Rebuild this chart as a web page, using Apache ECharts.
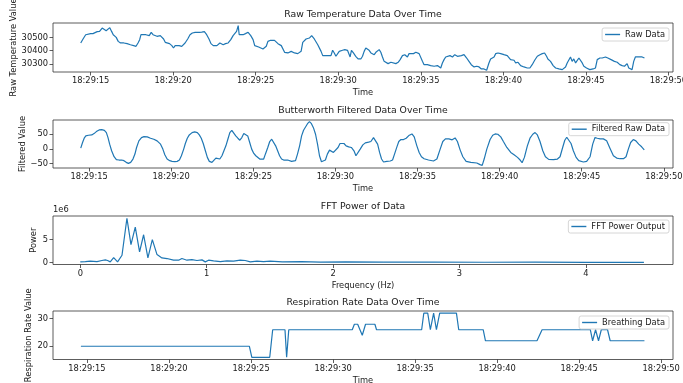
<!DOCTYPE html>
<html>
<head>
<meta charset="utf-8">
<script src="https://cdn.jsdelivr.net/npm/echarts@6/dist/echarts.min.js"></script>
<style>
  html, body { margin: 0; background: #fff; }
  #chart { width: 683px; height: 383px; }
</style>
</head>
<body>
<div id="chart"></div>
<script>
// seconds after 18:29:00
const timeTicks = [15, 20, 25, 30, 35, 40, 45, 50];
const freqTicks = [0, 1, 2, 3, 4];

const rawTime = [14.40,14.54,14.70,14.80,15.00,15.14,15.26,15.40,15.54,15.70,15.82,15.94,16.06,16.16,16.27,16.37,16.47,16.55,16.67,16.81,
  17.01,17.21,17.41,17.61,17.75,17.87,17.97,18.05,18.21,18.35,18.47,18.55,18.67,18.78,18.88,19.02,19.12,19.22,19.32,19.42,
  19.52,19.62,19.78,19.92,20.02,20.12,20.22,20.36,20.52,20.72,20.88,21.02,21.16,21.33,21.43,21.57,21.73,21.89,22.03,22.17,
  22.29,22.43,22.53,22.65,22.73,22.83,22.93,23.03,23.17,23.33,23.49,23.63,23.73,23.84,23.94,24.00,24.10,24.24,24.38,24.54,
  24.70,24.84,24.94,25.04,25.18,25.30,25.44,25.54,25.64,25.74,25.90,26.14,26.35,26.55,26.75,26.95,27.15,27.35,27.55,27.75,
  27.85,28.05,28.25,28.39,28.55,28.76,28.96,29.06,29.16,29.36,29.56,29.66,29.76,29.86,30.06,30.26,30.40,30.56,30.72,30.80,
  30.92,31.06,31.20,
  31.37,31.47,31.57,31.67,31.77,31.87,31.98,32.08,32.18,32.28,32.38,32.48,32.58,32.68,32.78,32.88,33.02,33.19,33.29,33.49,
  33.63,33.75,33.89,34.03,34.19,34.29,34.40,34.56,34.70,34.80,34.90,35.00,35.10,35.20,35.30,35.40,35.60,35.81,36.01,36.21,
  36.31,36.41,36.51,36.61,36.77,36.92,37.06,37.22,37.32,37.46,37.62,37.78,37.92,38.06,38.23,38.39,38.53,38.67,38.83,38.99,
  39.13,39.23,39.33,39.44,39.54,39.68,39.84,39.94,40.04,40.14,40.24,40.34,40.44,40.54,40.65,40.75,40.89,41.05,41.25,41.45,
  41.61,41.75,41.90,42.06,42.22,42.36,42.50,42.62,42.70,42.86,43.02,43.17,43.37,43.57,43.77,43.87,43.97,44.07,44.17,44.27,
  44.38,44.48,44.58,44.68,44.78,44.88,45.04,45.24,45.44,45.58,45.69,45.85,45.99,46.19,46.33,46.45,46.53,46.65,46.73,46.90,
  47.06,47.20,47.34,47.50,47.60,47.70,47.80,47.90,48.00,48.15,48.27,48.41,48.55];
const rawValue = [30458,30488,30520,30528,30528,30528,30538,30543,30545,30570,30558,30550,30563,30573,30545,30520,30508,30500,30470,30458,
  30458,30453,30445,30438,30433,30458,30483,30520,30520,30520,30533,30513,30538,30520,30533,30508,30503,30513,30528,30488,
  30463,30458,30453,30438,30420,30438,30425,30438,30433,30458,30488,30520,30533,30538,30543,30538,30540,30543,30520,30488,
  30453,30438,30445,30438,30433,30458,30470,30445,30453,30458,30483,30513,30528,30545,30588,30520,30513,30520,30528,30538,
  30513,30483,30438,30433,30428,30433,30413,30408,30433,30470,30478,30478,30453,30438,30388,30383,30395,30383,30378,30395,
  30463,30488,30495,30513,30488,30445,30395,30363,30353,30363,30363,30403,30383,30358,30395,30403,30408,30403,30353,30403,
  30383,30358,30338,
  30338,30358,30395,30420,30428,30403,30383,30395,30370,30388,30403,30408,30388,30353,30320,30313,30303,30313,30303,30303,
  30313,30333,30363,30370,30353,30378,30370,30378,30388,30383,30378,30383,30320,30295,30308,30295,30288,30283,30288,30270,
  30308,30333,30353,30345,30363,30353,30370,30358,30370,30363,30370,30345,30320,30295,30278,30283,30278,30263,30263,30253,
  30308,30338,30345,30353,30378,30383,30378,30388,30370,30383,30363,30353,30333,30320,30328,30308,30313,30288,30278,30270,
  30270,30295,30328,30358,30370,30378,30383,30358,30338,30320,30288,30270,30263,30258,30278,30308,30320,30353,30320,30338,
  30308,30313,30345,30333,30308,30283,30270,30258,30263,30270,30333,30345,30345,30353,30345,30358,30333,30345,30320,30313,
  30295,30288,30283,30303,30270,30283,30258,30320,30353,30353,30363,30353,30345];

const filtTime = [14.49,14.60,14.70,14.80,14.96,15.16,15.30,15.44,15.61,15.77,15.93,16.05,16.15,16.25,16.37,16.52,16.66,16.82,16.98,17.12,
  17.26,17.39,17.53,17.67,17.79,17.89,18.03,18.19,18.34,18.54,18.74,18.94,19.14,19.35,19.49,19.61,19.75,19.91,20.05,20.22,
  20.36,20.50,20.62,20.76,20.86,20.98,21.10,21.27,21.43,21.59,21.71,21.83,21.95,22.08,22.20,22.32,22.48,22.60,22.72,22.84,
  22.96,23.09,23.21,23.33,23.45,23.57,23.69,23.81,23.93,24.06,24.18,24.30,24.42,24.54,24.66,24.78,24.90,25.03,25.15,25.27,
  25.39,25.51,25.63,25.75,25.88,26.00,26.12,26.24,26.36,26.48,26.60,26.72,26.85,26.97,27.09,27.21,27.33,27.45,27.57,27.69,
  27.82,27.94,28.06,28.18,28.30,28.42,28.54,28.66,28.79,28.91,29.03,29.15,29.27,29.39,29.51,29.64,29.76,29.88,30.00,30.16,
  30.28,30.40,30.52,30.65,30.81,30.97,31.13,31.25,31.37,
  31.51,31.67,31.82,32.02,32.16,32.32,32.44,32.57,32.69,32.81,32.93,33.13,33.34,33.48,33.60,33.74,33.86,33.99,34.15,34.31,
  34.47,34.66,34.80,34.96,35.10,35.24,35.40,35.67,35.97,36.18,36.38,36.54,36.70,36.91,37.11,37.29,37.43,37.60,37.76,37.96,
  38.25,38.61,38.81,38.94,39.06,39.22,39.42,39.58,39.73,39.89,40.07,40.23,40.44,40.68,40.88,41.09,41.25,41.37,41.51,41.69,
  41.85,42.02,42.16,42.30,42.46,42.63,42.79,42.99,43.28,43.52,43.68,43.84,43.97,44.09,44.21,44.35,44.49,44.66,44.82,45.10,
  45.30,45.51,45.67,45.81,45.95,46.12,46.32,46.52,46.72,46.93,47.13,47.33,47.54,47.70,47.84,47.98,48.14,48.30,48.47,48.65,
  48.81];
const filtValue = [2.3,21.6,36.4,44.3,46.6,47.7,52.3,59.1,64.8,65.9,63.6,55.7,38.6,15.9,-6.8,-27.3,-37.5,-38.6,-38.6,-40.9,
  -46.6,-50.0,-46.6,-35.2,-18.2,4.5,27.3,38.6,42.0,40.9,36.4,32.9,27.3,15.9,-1.1,-20.4,-35.2,-40.9,-43.2,-44.3,
  -43.2,-38.6,-23.9,-1.1,18.2,36.4,47.7,55.7,57.9,55.7,47.7,36.4,18.2,-6.8,-29.5,-43.2,-46.6,-40.9,-31.8,-35.2,
  -35.2,-23.9,-6.8,10.2,32.9,55.7,63.6,59.1,44.3,36.4,29.5,38.6,52.3,55.7,44.3,21.6,-1.1,-15.9,-23.9,-29.5,
  -35.2,-38.6,-35.2,-15.9,4.5,25.0,32.9,27.3,10.2,-6.8,-23.9,-35.2,-38.6,-40.9,-38.6,-35.2,-43.2,-50.0,-40.9,-18.2,
  10.2,44.3,63.6,75.0,86.3,93.2,86.3,72.7,50.0,15.9,-23.9,-44.3,-46.6,-38.6,-18.2,-4.5,-4.5,-12.5,-6.8,4.5,
  18.2,25.0,18.2,10.2,6.8,4.5,-6.8,-23.9,-20.4,
  -1.1,13.6,20.4,22.7,25.0,38.6,36.4,15.9,-12.5,-35.2,-45.4,-43.2,-42.0,-38.6,-18.2,5.7,25.0,31.8,31.8,36.4,
  45.4,51.1,40.9,10.2,-12.5,-27.3,-34.1,-38.6,-42.0,-35.2,-1.1,25.0,34.1,34.1,30.7,37.5,25.0,-4.5,-27.3,-43.2,
  -46.6,-48.8,-54.5,-56.8,-35.2,-1.1,31.8,46.6,51.1,50.0,40.9,25.0,4.5,-12.5,-20.4,-29.5,-38.6,-47.7,-29.5,10.2,
  36.4,50.0,55.7,47.7,25.0,-6.8,-27.3,-36.4,-37.5,-35.2,-27.3,4.5,29.5,39.8,36.4,18.2,-6.8,-29.5,-40.9,-45.4,
  -43.2,-27.3,15.9,38.6,36.4,34.1,34.1,27.3,2.3,-23.9,-31.8,-34.1,-34.1,-27.3,-1.1,21.6,31.8,27.3,15.9,6.8,
  -3.4];

const fftFreq = [0, 0.04, 0.079, 0.132, 0.171, 0.198, 0.216, 0.237, 0.264, 0.295, 0.33, 0.369, 0.401, 0.435, 0.469, 0.501,
  0.535, 0.57, 0.607, 0.646, 0.686, 0.738, 0.778, 0.804, 0.844, 0.883, 0.923, 0.963, 0.989, 1.015, 1.055, 1.108,
  1.16, 1.213, 1.266, 1.305, 1.345, 1.398, 1.45, 1.503, 1.6, 1.75, 1.9, 2.1, 2.4, 2.8, 3.2, 3.6, 4.0, 4.46];
const fftPower = [0.14e6, 0.21e6, 0.29e6, 0.21e6, 0.43e6, 0.57e6, 0.43e6, 0.14e6, 1.07e6, 0.14e6, 1.57e6, 9.57e6, 3.86e6, 7.64e6, 2.29e6, 6.0e6,
  1.0e6, 4.93e6, 1.71e6, 1.0e6, 0.86e6, 0.5e6, 0.5e6, 0.86e6, 0.5e6, 0.64e6, 0.43e6, 0.57e6, 0.14e6, 0.5e6, 0.36e6, 0.21e6,
  0.36e6, 0.29e6, 0.5e6, 0.43e6, 0.14e6, 0.29e6, 0.21e6, 0.29e6, 0.15e6, 0.2e6, 0.1e6, 0.12e6, 0.08e6, 0.1e6, 0.06e6, 0.08e6, 0.05e6, 0.05e6];

const respTime = [14.63, 24.9, 25.05, 26.14, 26.32, 27.07, 27.17, 27.3, 31.17, 31.3, 31.5, 31.78, 31.98, 32.55, 32.65, 35.4, 35.53, 35.77,
  35.93, 36.13, 36.3, 36.5, 37.52, 37.66, 39.15, 39.29, 42.43, 42.74, 45.68, 45.82, 46.0, 46.18, 46.35, 46.73, 46.89, 48.98];
const respRate = [20, 20, 16, 16, 26, 26, 16, 26, 26, 28, 28, 24, 28, 28, 26, 26, 32, 32,
  26, 32, 26, 32, 32, 26, 26, 22, 22, 26, 26, 22, 26, 22, 26, 26, 22, 22];

const FONT = 'DejaVu Sans';
const TXT = '#1a1a1a';
const BLUE = '#1f77b4';
const pair = (xs, ys) => xs.map((x, i) => [x, ys[i]]);
const minus = (v) => String(v).replace('-', '\u2212');

const chart = echarts.init(document.getElementById('chart'));

const tops = [23, 120, 216, 311];
const heights = [49, 48, 48.5, 48.5];

function axis(i, min, max, ticks, fmt, name, gap) {
  return {
    gridIndex: i, type: 'value', min: min, max: max,
    axisLine: { show: false, onZero: false }, splitLine: { show: false },
    axisTick: { show: true, length: 3.5, customValues: ticks, lineStyle: { color: '#333', width: 0.8 } },
    axisLabel: { customValues: ticks, formatter: fmt, fontSize: 8.3, fontFamily: FONT, color: TXT, margin: 5 },
    name: name, nameLocation: 'middle', nameGap: gap, nameMoveOverlap: false,
    nameTextStyle: { fontSize: 8.3, fontFamily: FONT, color: TXT }
  };
}
function leg(name, top) {
  return {
    data: [name], right: 14, top: top, orient: 'horizontal',
    icon: 'rect', itemWidth: 15, itemHeight: 1.4,
    padding: [2.5, 4, 2.5, 3],
    backgroundColor: 'rgba(255,255,255,0.8)', borderColor: '#ccc', borderWidth: 0.8, borderRadius: 2,
    textStyle: { fontSize: 8.3, fontFamily: FONT, color: TXT }
  };
}
function line(i, name, data) {
  return {
    name: name, type: 'line', xAxisIndex: i, yAxisIndex: i, data: data,
    symbol: 'none', showSymbol: false, animation: false,
    lineStyle: { color: BLUE, width: 1.2 }, itemStyle: { color: BLUE }
  };
}
const timeFmt = (v) => '18:29:' + v;
const title = (text, y) => ({
  type: 'text', x: 363, y: y,
  style: { text: text, fontSize: 9.3, fontFamily: FONT, fill: TXT, align: 'center', verticalAlign: 'middle' }
});

chart.setOption({
  animation: false,
  backgroundColor: '#fff',
  grid: tops.map((t, i) => ({
    left: 53, width: 620, top: t, height: heights[i],
    outerBoundsMode: 'none', containLabel: false,
    show: true, borderColor: '#333', borderWidth: 0.8, backgroundColor: 'transparent'
  })),
  xAxis: [
    axis(0, 12.72, 50.28, timeTicks, timeFmt, 'Time', 17),
    axis(1, 12.8, 50.56, timeTicks, timeFmt, 'Time', 17),
    axis(2, -0.216, 4.69, freqTicks, (v) => String(v), 'Frequency (Hz)', 17),
    axis(3, 12.93, 50.72, timeTicks, timeFmt, 'Time', 17)
  ],
  yAxis: [
    axis(0, 30240, 30608, [30300, 30400, 30500], (v) => String(v), 'Raw Temperature Value', 35.5),
    axis(1, -66, 99, [-50, 0, 50], minus, 'Filtered Value', 26.5),
    axis(2, -0.43e6, 10.05e6, [0, 5e6], (v) => String(v / 1e6), 'Power', 15.5),
    axis(3, 15.2, 32.8, [20, 30], (v) => String(v), 'Respiration Rate Value', 20.5)
  ],
  legend: [
    leg('Raw Data', 28),
    leg('Filtered Raw Data', 122.7),
    leg('FFT Power Output', 220),
    leg('Breathing Data', 316)
  ],
  series: [
    line(0, 'Raw Data', pair(rawTime, rawValue)),
    line(1, 'Filtered Raw Data', pair(filtTime, filtValue)),
    line(2, 'FFT Power Output', pair(fftFreq, fftPower)),
    line(3, 'Breathing Data', pair(respTime, respRate))
  ],
  graphic: [
    title('Raw Temperature Data Over Time', 15),
    title('Butterworth Filtered Data Over Time', 111),
    title('FFT Power of Data', 207),
    title('Respiration Rate Data Over Time', 303),
    { type: 'text', x: 53, y: 210,
      style: { text: '1e6', fontSize: 8.3, fontFamily: FONT, fill: TXT, align: 'left', verticalAlign: 'middle' } }
  ]
});
</script>
</body>
</html>
